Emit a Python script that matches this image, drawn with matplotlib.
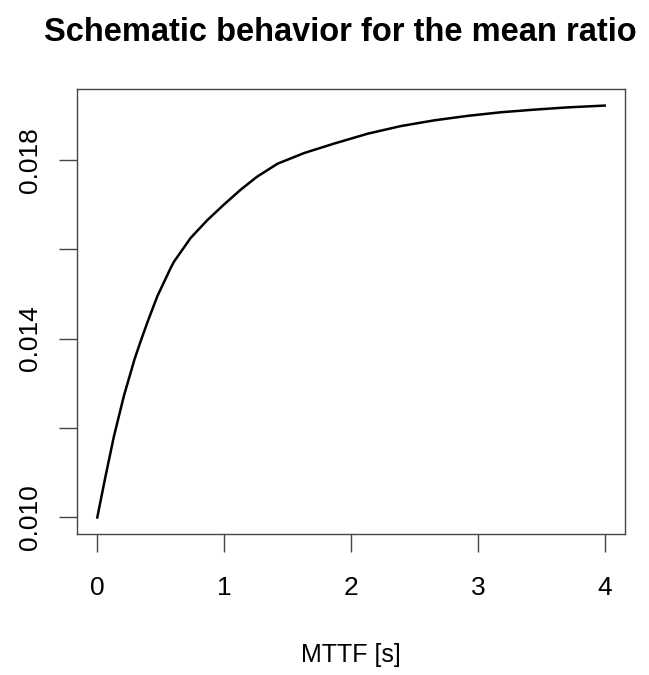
import matplotlib
matplotlib.use('Agg')
import matplotlib.pyplot as plt

plt.rcParams['font.family'] = ['Liberation Sans', 'DejaVu Sans']

# values
mttf = [0.0, 0.065, 0.131, 0.21, 0.295, 0.342, 0.40, 0.474, 0.579, 0.605,
        0.736, 0.868, 1.0, 1.131, 1.26, 1.421, 1.632, 1.867, 2.13, 2.39,
        2.657, 2.92, 3.18, 3.45, 3.71, 4.0]
ratio = [0.01000, 0.01092, 0.01181, 0.01272, 0.01355, 0.01394, 0.01440,
         0.01495, 0.01558, 0.01572, 0.01625, 0.01665, 0.01700, 0.01733,
         0.01762, 0.01791, 0.01815, 0.01836, 0.01858, 0.01875, 0.01888,
         0.01898, 0.01906, 0.01912, 0.01917, 0.01921]

x_ticks = [0, 1, 2, 3, 4]
y_ticks = [0.010, 0.012, 0.014, 0.016, 0.018]
y_labels = ['0.010', '', '0.014', '', '0.018']

fig = plt.figure(figsize=(6.49, 6.75), dpi=100)
ax = fig.add_axes([0.1186, 0.209, 0.8444, 0.659])

ax.plot(mttf, ratio, color='black', linewidth=1.8)

# R style 4% padding
xr = max(mttf) - min(mttf)
yr = max(ratio) - min(ratio)
ax.set_xlim(min(mttf) - 0.04 * xr, max(mttf) + 0.04 * xr)
ax.set_ylim(min(ratio) - 0.04 * yr, max(ratio) + 0.04 * yr)

ax.set_xticks(x_ticks)
ax.set_xticklabels([str(t) for t in x_ticks], fontsize=19)
ax.set_yticks(y_ticks)
ax.set_yticklabels(y_labels, fontsize=19, rotation=90, va='center')
ax.tick_params(length=13, width=1, color='#444444')
ax.tick_params(axis='x', pad=17)
ax.tick_params(axis='y', pad=12)

for s in ax.spines.values():
    s.set_color('#444444')
    s.set_linewidth(1)

ax.set_xlabel('MTTF [s]', fontsize=18, labelpad=31)
fig.suptitle('Schematic behavior for the mean ratio', fontsize=23.5,
             fontweight='bold', x=0.525, y=0.975)

fig.savefig('out.png', dpi=100)
